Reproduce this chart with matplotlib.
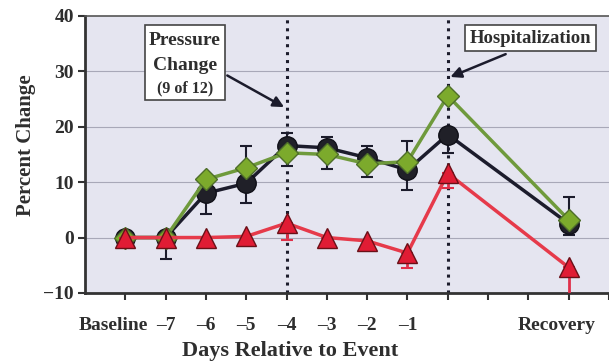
import numpy as np
import matplotlib.pyplot as plt
import matplotlib.transforms as mtransforms

# x positions: Baseline, -7..-1, event, two blank slots, Recovery
xpos = [0, 1, 2, 3, 4, 5, 6, 7, 8, 11]
tick_pos = list(range(0, 13))
tick_labels = ["Baseline", "\u20137", "\u20136", "\u20135", "\u20134", "\u20133",
               "\u20132", "\u20131", "", "", "", "Recovery", ""]

black = [0, 0, 8.0, 9.8, 16.6, 16.2, 14.4, 12.2, 18.6, 2.5]
black_lo = [0, 3.8, 3.7, 3.6, 3.6, 3.8, 3.5, 3.7, 3.4, 2.0]
black_hi = [0, 0, 0, 6.7, 2.2, 2.0, 2.1, 5.3, 0, 4.8]

green = [0, 0, 10.5, 12.6, 15.3, 15.0, 13.3, 13.7, 25.6, 3.2]

red = [0, 0, 0, 0.2, 2.6, 0, -0.6, -2.8, 11.6, -5.4]
red_lo = [0, 0, 0, 1.2, 3.0, 0, 0.6, 2.7, 2.6, 5.0]
red_hi = [0, 0, 0, 0, 0, 0, 0, 0, 0, 0]

navy = "#1c1c2c"
txtc = "#2e2e2e"
fig = plt.figure(figsize=(6.09, 3.63), dpi=100)
ax = fig.add_axes([0.1396, 0.193, 0.8604, 0.763])
ax.set_facecolor("#e5e5f0")

for y in [0, 10, 20, 30]:
    ax.axhline(y, color="#a8a8b8", lw=0.8, zorder=1)

for xv in [4, 8]:
    ax.axvline(xv, color=navy, lw=2.2, ls=(0, (1, 1.6)), zorder=2)

ax.errorbar(xpos, black, yerr=[black_lo, black_hi], fmt="none", ecolor=navy,
            elinewidth=1.5, capsize=4, capthick=1.5, zorder=3)
ax.plot(xpos, black, color=navy, lw=2.5, marker="o", ms=14,
        mfc="#202028", mec="#101018", zorder=4)
ax.plot(xpos, green, color="#6f9a3c", lw=2.5, marker="D", ms=11,
        mfc="#7caa2c", mec="#4e6e2a", zorder=5)
ax.errorbar(xpos, red, yerr=[red_lo, red_hi], fmt="none", ecolor="#e0304a",
            elinewidth=2, capsize=4, capthick=1.5, zorder=6)
ax.plot(xpos, red, color="#e63a4a", lw=2.5, marker="^", ms=14,
        mfc="#e01c34", mec="#6a1018", zorder=7)

ax.set_xlim(-1, 12)
ax.set_ylim(-10, 40)
ax.set_yticks([-10, 0, 10, 20, 30, 40])
ax.set_xticks(tick_pos)
ax.set_xticklabels(tick_labels)

font = dict(family="Liberation Serif", weight="bold")
for lab in ax.get_xticklabels() + ax.get_yticklabels():
    lab.set_fontfamily("Liberation Serif")
    lab.set_fontweight("bold")
    lab.set_fontsize(14)
    lab.set_color(txtc)
ax.tick_params(axis="both", direction="out", length=5, width=1.5, color="#333333")
ax.tick_params(axis="x", pad=12)
ax.tick_params(axis="y", pad=3)

# word labels sit a bit left of their ticks
shift = mtransforms.ScaledTranslation(-12 / 100, 0, fig.dpi_scale_trans)
for lab in ax.get_xticklabels():
    if lab.get_text() in ("Baseline", "Recovery"):
        lab.set_transform(lab.get_transform() + shift)

for s in ["left", "bottom"]:
    ax.spines[s].set_linewidth(2)
    ax.spines[s].set_color("#333333")
ax.spines["top"].set_color("#555555")
ax.spines["top"].set_linewidth(1.2)
ax.spines["right"].set_visible(False)

ax.set_xlabel("Days Relative to Event", fontsize=16, color=txtc, **font)
ax.xaxis.set_label_coords(0.391, -0.172)
ax.set_ylabel("Percent Change", fontsize=15, color=txtc, **font)
ax.yaxis.set_label_coords(-0.093, 0.534)

# Pressure change box
ax.annotate("", xy=(4, 23.3), xytext=(2.47, 29.5),
            arrowprops=dict(arrowstyle="-|>", color=navy, lw=1.8, mutation_scale=16),
            zorder=8)
ax.add_patch(plt.Rectangle((0.49, 24.8), 1.98, 13.5, fc="white", ec="#444444",
                           lw=1.2, zorder=8))
ax.text(1.48, 35.5, "Pressure", ha="center", va="center", fontsize=14,
        color=txtc, zorder=9, **font)
ax.text(1.48, 31.1, "Change", ha="center", va="center", fontsize=14,
        color=txtc, zorder=9, **font)
ax.text(1.48, 27.0, "(9 of 12)", ha="center", va="center", fontsize=11.5,
        color=txtc, zorder=9, **font)

# Hospitalization box
box = dict(boxstyle="square,pad=0.25", fc="white", ec="#444444", lw=1.2)
ax.annotate("", xy=(8, 28.8), xytext=(9.5, 33.3),
            arrowprops=dict(arrowstyle="-|>", color=navy, lw=1.8, mutation_scale=16),
            zorder=8)
ax.text(10.05, 36.0, "Hospitalization", ha="center", va="center", fontsize=13.5,
        color=txtc, bbox=box, zorder=9, **font)

fig.savefig("out.png", dpi=100)
